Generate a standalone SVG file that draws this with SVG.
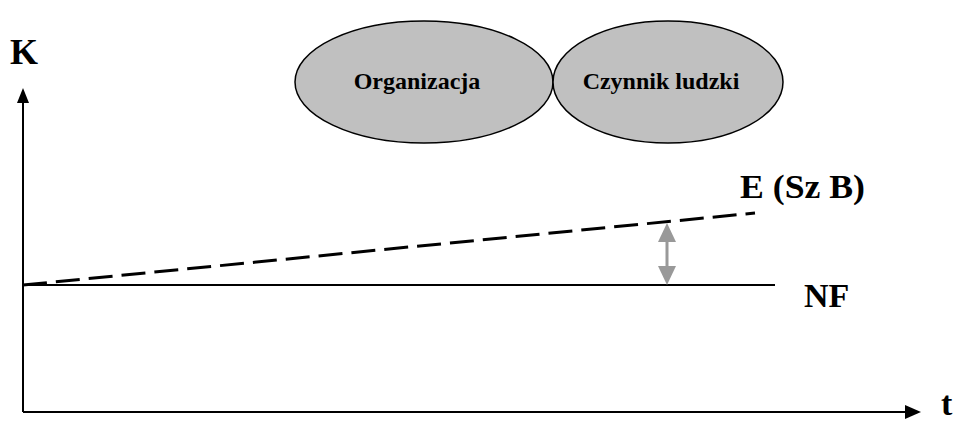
<svg xmlns="http://www.w3.org/2000/svg" width="977" height="432" viewBox="0 0 977 432">
<style>
text{font-family:'Liberation Serif',serif;font-weight:700;fill:#000}
.ell{fill:#c0c0c0;stroke:#000;stroke-width:1.5}
.ax{stroke:#000;stroke-width:2;fill:none}
</style>
<rect width="977" height="432" fill="#fff"/>
<g id="connectors">
  <line class="ax" x1="23" y1="412" x2="23" y2="100"/>
  <polygon points="23,88 17,103 29,103" fill="#000"/>
  <line class="ax" x1="23" y1="412" x2="908" y2="412"/>
  <polygon points="921,412 905,405 905,419" fill="#000"/>
  <line x1="23" y1="285" x2="775" y2="285" stroke="#000" stroke-width="1.8"/>
  <line x1="23" y1="285" x2="755" y2="213" stroke="#000" stroke-width="3" stroke-dasharray="24,9"/>
  <line x1="667" y1="236" x2="667" y2="272" stroke="#999" stroke-width="3"/>
  <polygon points="667,223 658,242 676,242" fill="#999"/>
  <polygon points="667,285 658,266 676,266" fill="#999"/>
</g>
<g id="organizacja">
  <ellipse class="ell" cx="424" cy="82" rx="129" ry="61"/>
  <text x="417" y="89" font-size="24" text-anchor="middle">Organizacja</text>
</g>
<g id="czynnik">
  <ellipse class="ell" cx="668" cy="82" rx="115" ry="61"/>
  <text x="661" y="89" font-size="24" text-anchor="middle">Czynnik ludzki</text>
</g>
<g id="labels">
  <text x="10" y="64" font-size="36">K</text>
  <text x="941" y="415" font-size="34">t</text>
  <text x="740" y="198" font-size="34" textLength="125" lengthAdjust="spacingAndGlyphs">E (Sz B)</text>
  <text x="804" y="307" font-size="34">NF</text>
</g>
</svg>
